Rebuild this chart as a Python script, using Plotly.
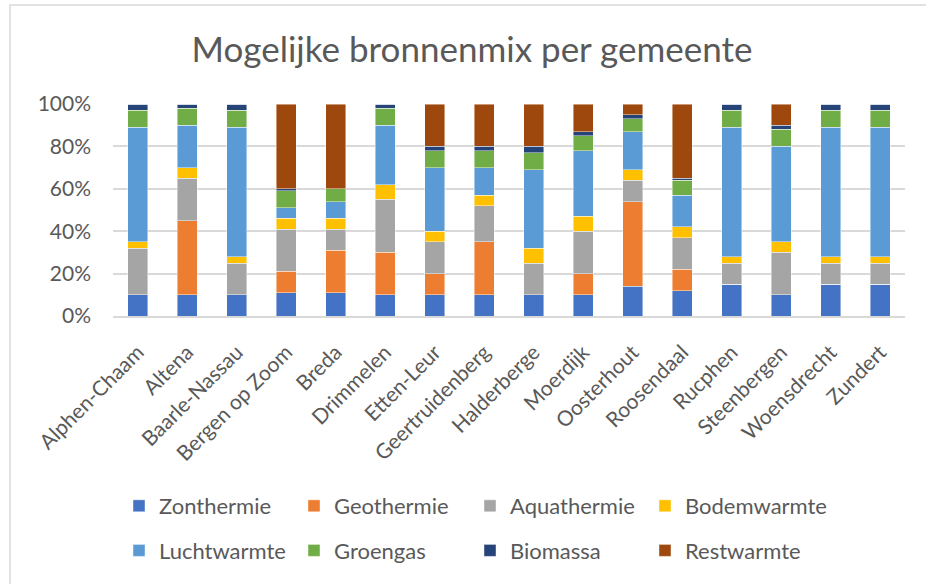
import plotly.graph_objects as go

# Gemeenten (categorieën op de x-as)
gemeenten = [
    "Alphen-Chaam", "Altena", "Baarle-Nassau", "Bergen op Zoom", "Breda",
    "Drimmelen", "Etten-Leur", "Geertruidenberg", "Halderberge", "Moerdijk",
    "Oosterhout", "Roosendaal", "Rucphen", "Steenbergen", "Woensdrecht", "Zundert",
]

# Aandeel per bron (%), in dezelfde volgorde als de gemeenten
zonthermie  = [10, 10, 10, 11, 11, 10, 10, 10, 10, 10, 14, 12, 15, 10, 15, 15]
geothermie  = [0, 35, 0, 10, 20, 20, 10, 25, 0, 10, 40, 10, 0, 0, 0, 0]
aquathermie = [22, 20, 15, 20, 10, 25, 15, 17, 15, 20, 10, 15, 10, 20, 10, 10]
bodemwarmte = [3, 5, 3, 5, 5, 7, 5, 5, 7, 7, 5, 5, 3, 5, 3, 3]
luchtwarmte = [54, 20, 61, 5, 8, 28, 30, 13, 37, 31, 18, 15, 61, 45, 61, 61]
groengas    = [8, 8, 8, 8, 6, 8, 8, 8, 8, 7, 6, 7, 8, 8, 8, 8]
biomassa    = [3, 2, 3, 1, 0, 2, 2, 2, 3, 2, 2, 1, 3, 2, 3, 3]
restwarmte  = [0, 0, 0, 40, 40, 0, 20, 20, 20, 13, 5, 35, 0, 10, 0, 0]

y_ticks = [0, 20, 40, 60, 80, 100]
y_tick_labels = ["0%", "20%", "40%", "60%", "80%", "100%"]

series = [
    ("Zonthermie", zonthermie, "#4472C4"),
    ("Geothermie", geothermie, "#ED7D31"),
    ("Aquathermie", aquathermie, "#A5A5A5"),
    ("Bodemwarmte", bodemwarmte, "#FFC000"),
    ("Luchtwarmte", luchtwarmte, "#5B9BD5"),
    ("Groengas", groengas, "#70AD47"),
    ("Biomassa", biomassa, "#264478"),
    ("Restwarmte", restwarmte, "#9E480E"),
]

TEXT = "#595959"
GRID = "#D9D9D9"
FONT = "Lato"

# Legend laid out as 4 columns of 2 entries (one legend per column)
legend_ids = ["legend", "legend2", "legend3", "legend4"]

fig = go.Figure()
for i, (name, vals, color) in enumerate(series):
    fig.add_trace(go.Bar(
        name=name, x=gemeenten, y=vals,
        legend=legend_ids[i % 4], legendgroup=name,
        marker=dict(color=color, line=dict(color="rgba(255,255,255,0.55)", width=0.8)),
    ))

W, H = 926, 584
L, R, T, B = 113, 21, 104, 268
pw, ph = W - L - R, H - T - B


def px_x(p):
    return (p - L) / pw


def px_y(p):
    return (H - B - p) / ph


column_x = [119, 294, 470, 645]
legend_layouts = {}
for lid, cx in zip(legend_ids, column_x):
    legend_layouts[lid] = dict(
        orientation="v", traceorder="grouped",
        x=px_x(cx), xanchor="left", xref="paper",
        y=px_y(485), yanchor="top", yref="paper",
        font=dict(size=22, color=TEXT),
        itemwidth=30, tracegroupgap=13, bgcolor="rgba(0,0,0,0)",
    )

fig.update_layout(
    width=W, height=H,
    margin=dict(l=L, r=R, t=T, b=B, autoexpand=False),
    paper_bgcolor="white", plot_bgcolor="white",
    barmode="stack", barnorm="percent", bargap=0.6,
    font=dict(family=FONT, color=TEXT),
    title=dict(
        text="Mogelijke bronnenmix per gemeente",
        font=dict(family=FONT, size=35, color=TEXT),
        x=472 / W, xanchor="center", xref="container",
        y=(H - 50) / H, yanchor="middle", yref="container",
    ),
    xaxis=dict(
        tickangle=-45, tickfont=dict(size=21, color=TEXT),
        showgrid=False, showline=True, linecolor=GRID, linewidth=1.5,
        ticks="", ticklabelstandoff=14,
    ),
    yaxis=dict(
        range=[0, 100], tickvals=y_ticks, ticktext=y_tick_labels,
        tickfont=dict(size=21, color=TEXT),
        showgrid=True, gridcolor=GRID, gridwidth=1.5,
        zeroline=False, showline=False, ticks="",
        ticklabelstandoff=21,
    ),
    shapes=[dict(
        type="rect", xref="paper", yref="paper",
        x0=px_x(10), x1=px_x(940), y0=px_y(5), y1=px_y(600),
        line=dict(color=GRID, width=1.5), fillcolor="rgba(0,0,0,0)", layer="below",
    )],
    showlegend=True,
    **legend_layouts,
)

fig.write_html("out.html")
